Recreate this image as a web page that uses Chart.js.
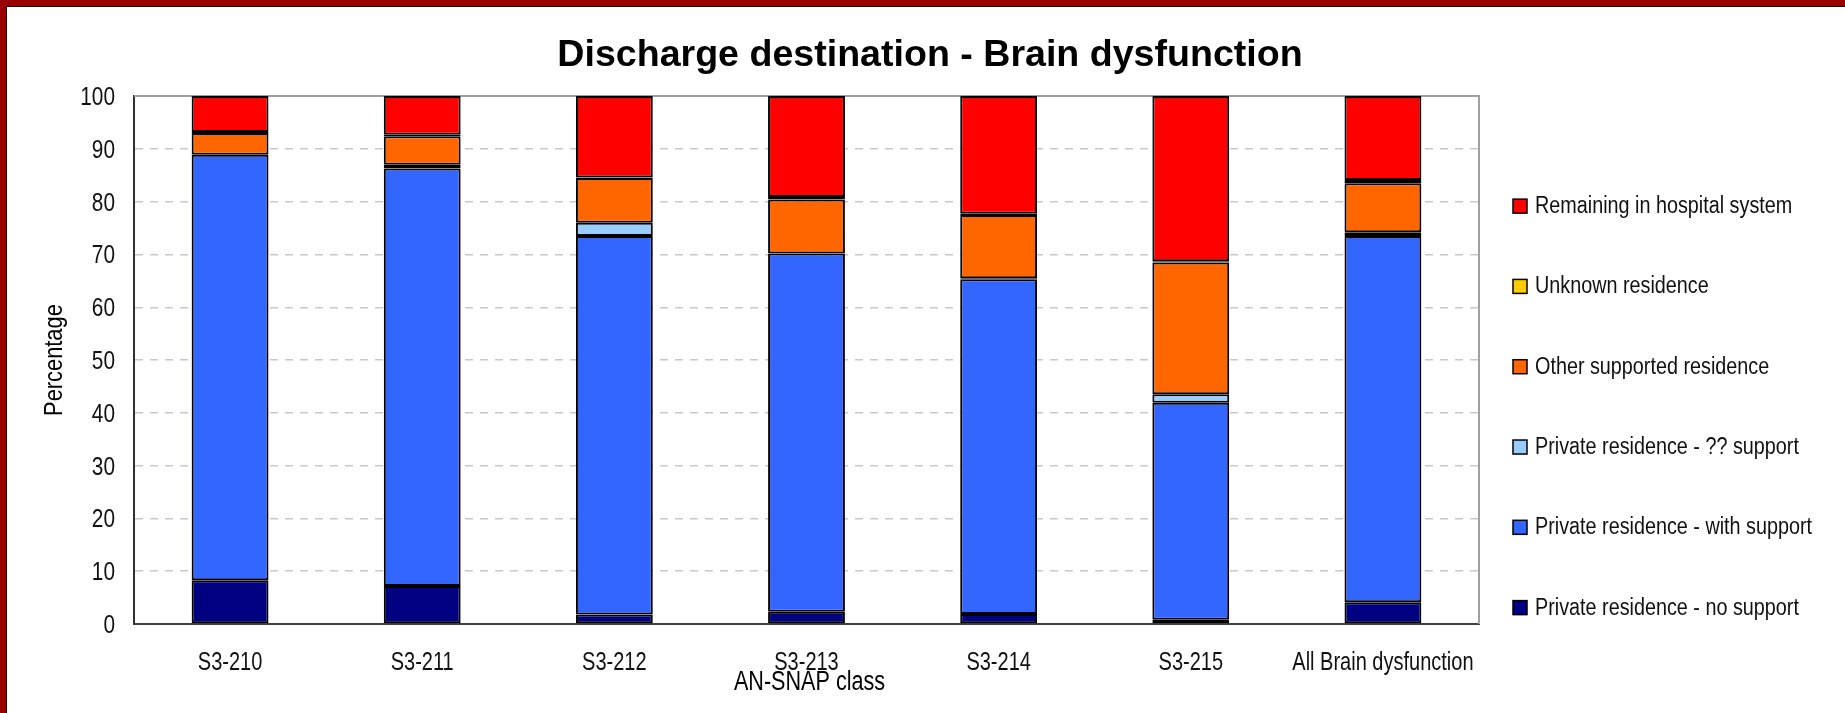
<!DOCTYPE html>
<html>
<head>
<meta charset="utf-8">
<script src="https://cdn.jsdelivr.net/npm/chart.js@4/dist/chart.umd.min.js"></script>
<style>
    html, body { margin: 0; padding: 0; background: #fff; }
    #wrap { position: absolute; left: 0; top: 0; width: 1845px; height: 713px; }
    #frame {
        position: absolute; left: 0; top: 0; width: 1845px; height: 713px;
        box-sizing: border-box; border-top: 6px solid #990000; border-left: 6px solid #990000;
        pointer-events: none;
    }
    #frame div { width: 100%; height: 100%; box-sizing: border-box; border-top: 1px solid #1a0000; border-left: 1px solid #1a0000; }
</style>
</head>
<body>
<div id="wrap"><canvas id="chart" width="1845" height="713"></canvas></div>
<div id="frame"><div></div></div>
<script>
// Chart data
const categories = ["S3-210", "S3-211", "S3-212", "S3-213", "S3-214", "S3-215", "All Brain dysfunction"];
const noSupport = [8.3, 7.2, 1.8, 2.3, 1.9, 0.8, 4.1];
const withSupport = [80.6, 79.1, 71.7, 67.9, 63.4, 41.1, 69.4];
const unsureSupport = [0, 0.7, 2.5, 0, 0.2, 1.6, 0.7];
const otherSupported = [4.1, 5.4, 8.5, 10.2, 12.0, 25.0, 9.3];
const unknownResidence = [0.2, 0.3, 0.1, 0.5, 0.2, 0.2, 0.6];
const remaining = [6.8, 7.3, 15.4, 19.1, 22.3, 31.3, 15.9];
const yTicks = [0, 10, 20, 30, 40, 50, 60, 70, 80, 90, 100];

const xTitle = "AN-SNAP class";
const yTitle = "Percentage";
const fontFamily = "'Liberation Sans', Arial, sans-serif";

function series(label, data, color) {
    return { label: label, data: data, backgroundColor: color, borderColor: "#000", borderWidth: 2, borderSkipped: false };
}

// no narrow font installed, so squeeze the regular one
function narrowText(ctx, text, x, y, size, align, rot, sx) {
    ctx.save();
    ctx.translate(x, y);
    if (rot) ctx.rotate(rot);
    ctx.scale(sx || 0.8, 1);
    ctx.font = size + "px " + fontFamily;
    ctx.textAlign = align;
    ctx.textBaseline = "alphabetic";
    ctx.fillText(text, 0, 0);
    ctx.restore();
}

// plot frame (grey top/right) behind bars
const plotFrame = {
    id: "plotFrame",
    beforeDatasetsDraw(chart) {
        const a = chart.chartArea, ctx = chart.ctx;
        ctx.save();
        ctx.strokeStyle = "#a0a0a0";
        ctx.lineWidth = 2;
        ctx.beginPath();
        ctx.moveTo(a.left, a.top);
        ctx.lineTo(a.right, a.top);
        ctx.lineTo(a.right, a.bottom);
        ctx.stroke();
        ctx.restore();
    }
};

// tick labels, axis titles and legend, drawn with the condensed text
const labelsAndLegend = {
    id: "labelsAndLegend",
    afterDraw(chart) {
        const a = chart.chartArea, ctx = chart.ctx;
        const xs = chart.scales.x, ys = chart.scales.y;
        ctx.save();
        ctx.fillStyle = "#111";
        ys.ticks.forEach(t => narrowText(ctx, String(t.value), a.left - 19, ys.getPixelForValue(t.value) + 9, 26, "right"));
        categories.forEach((c, i) => narrowText(ctx, c, xs.getPixelForValue(i), a.bottom + 46, 25, "center"));
        ctx.fillStyle = "#000";
        narrowText(ctx, xTitle, (a.left + a.right) / 2 + 3, a.bottom + 66, 27, "center");
        narrowText(ctx, yTitle, 62, (a.top + a.bottom) / 2, 26, "center", -Math.PI / 2, 0.84);

        const sets = chart.data.datasets.slice().reverse();
        sets.forEach(function (ds, i) {
            const y = a.top + 109 + i * 80.3;
            const x = a.right + 34;
            ctx.fillStyle = ds.backgroundColor;
            ctx.fillRect(x, y - 6, 14, 14);
            ctx.strokeStyle = "#000";
            ctx.lineWidth = 1.5;
            ctx.strokeRect(x, y - 6, 14, 14);
            ctx.fillStyle = "#111";
            narrowText(ctx, ds.label, x + 22, y + 8, 23, "left", 0, 0.86);
        });
        ctx.restore();
    }
};

new Chart(document.getElementById("chart"), {
    type: "bar",
    data: {
        labels: categories,
        datasets: [
            series("Private residence - no support", noSupport, "#000080"),
            series("Private residence - with support", withSupport, "#3366FF"),
            series("Private residence - ?? support", unsureSupport, "#99CCFF"),
            series("Other supported residence", otherSupported, "#FF6600"),
            series("Unknown residence", unknownResidence, "#FFCC00"),
            series("Remaining in hospital system", remaining, "#FF0000")
        ]
    },
    options: {
        responsive: false,
        animation: false,
        events: [],
        layout: { padding: { left: 15, right: 0, top: 0, bottom: 0 } },
        datasets: { bar: { barPercentage: 0.4, categoryPercentage: 1 } },
        plugins: {
            legend: { display: false },
            tooltip: { enabled: false },
            title: {
                display: true,
                text: "Discharge destination - Brain dysfunction",
                color: "#000",
                font: { family: fontFamily, size: 37.6, weight: "bold" },
                padding: { top: 33, bottom: 18 }
            }
        },
        scales: {
            x: {
                stacked: true,
                grid: { display: false },
                border: { color: "#404040", width: 2 },
                ticks: { display: false },
                afterFit(scale) { scale.height = 89; }
            },
            y: {
                stacked: true,
                min: 0,
                max: 100,
                afterBuildTicks(scale) { scale.ticks = yTicks.map(v => ({ value: v })); },
                grid: { color: "#c8c8c8", lineWidth: 1.5, drawTicks: false },
                border: { color: "#303030", width: 2, dash: [8, 7] },
                ticks: { display: false },
                afterFit(scale) { scale.width = 119; }
            },
            // empty box on the right that holds the legend space
            side: {
                type: "linear",
                position: "right",
                display: true,
                grid: { display: false },
                border: { display: false },
                ticks: { display: false },
                afterFit(scale) { scale.width = 366; }
            }
        }
    },
    plugins: [plotFrame, labelsAndLegend]
});
</script>
</body>
</html>
